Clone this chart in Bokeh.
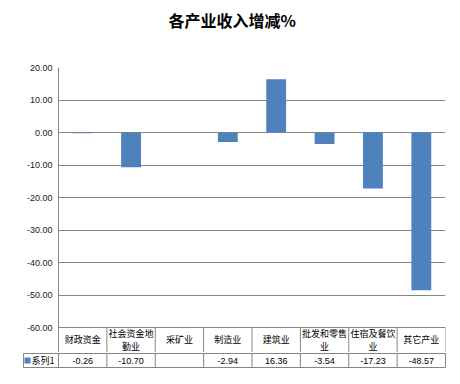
from bokeh.plotting import figure
from bokeh.models import Range1d, FixedTicker, NumeralTickFormatter, ColumnDataSource, Title
from bokeh.layouts import column
from bokeh.core.properties import value
from bokeh.embed import file_html
from bokeh.resources import INLINE

chart_title = "各产业收入增减%"
categories = ["财政资金", "社会资金地\n勤业", "采矿业", "制造业", "建筑业",
              "批发和零售\n业", "住宿及餐饮\n业", "其它产业"]
values = [-0.26, -10.70, None, -2.94, 16.36, -3.54, -17.23, -48.57]
series_name = "系列1"
y_ticks = [-60, -50, -40, -30, -20, -10, 0, 10, 20]

BAR = "#4F81BD"
GRID = "#868686"
CJK = "Noto Sans CJK SC"
NUM = "Liberation Sans"

n = len(categories)
centers = [i + 0.5 for i in range(n)]
vals = [float("nan") if v is None else v for v in values]
val_txt = ["" if v is None else f"{v:.2f}" for v in values]

ypx = 3.25                      # pixels per y unit
ymin = min(y_ticks)
ymax = max(y_ticks)
head_h = 26 / ypx               # header row height (data units)

W = 452
# ---------- chart + header row ----------
p = figure(width=W, height=352,
           min_border_left=58, min_border_right=7, min_border_top=67, min_border_bottom=0,
           x_range=Range1d(0, n), y_range=Range1d(ymin - 25 / ypx, ymax),
           output_backend="svg", toolbar_location=None, title=chart_title,
           frame_align=False)
p.title.align = "left"
p.title.offset = 110
p.title.vertical_align = "bottom"
p.title.standoff = 0
p.title.text_font = CJK
p.title.text_font_size = "16px"
p.title.text_font_style = "bold"
p.title.text_color = "#000000"
# empty spacer between the title and the plotting area
p.add_layout(Title(text=" ", text_font_size="1px", standoff=33), "above")
p.outline_line_color = None
p.xaxis.visible = False
p.xgrid.visible = False
p.yaxis.ticker = FixedTicker(ticks=y_ticks)
p.yaxis.formatter = NumeralTickFormatter(format="0.00")
p.yaxis.major_tick_out = 0
p.yaxis.major_tick_in = 0
p.yaxis.minor_tick_out = 0
p.yaxis.minor_tick_in = 0
p.yaxis.axis_line_color = GRID
p.yaxis.major_label_text_font = NUM
p.yaxis.major_label_text_font_size = "9px"
p.yaxis.major_label_text_color = "#1a1a1a"
p.yaxis.major_label_standoff = 6
p.ygrid.ticker = FixedTicker(ticks=y_ticks)
p.ygrid.grid_line_color = GRID
p.ygrid.grid_line_width = 1

src = ColumnDataSource(dict(x=centers, top=vals))
p.vbar(x="x", top="top", bottom=0, width=0.41, source=src, color=BAR, line_color=None)

xs = list(range(n + 1))
p.segment(x0=xs, y0=[ymin] * (n + 1), x1=xs, y1=[ymin - 30 / ypx] * (n + 1),
          line_color=GRID, line_width=1)
p.text(x=centers, y=[ymin - (head_h / 2) + 1 / ypx] * n, text=categories, text_align="center",
       text_baseline="middle", text_font=value(CJK), text_font_size="9px",
       text_color="#000000", text_line_height=1.0)

# ---------- value row with series key ----------
xpx = 387 / n
t = figure(width=W, height=24,
           min_border_left=22, min_border_right=6, min_border_top=0, min_border_bottom=8,
           x_range=Range1d(-36 / xpx, n + 1 / xpx), y_range=Range1d(-1, 15),
           output_backend="svg", toolbar_location=None, frame_align=False)
t.axis.visible = False
t.grid.visible = False
t.outline_line_color = None

key_left = -35 / xpx
t.segment(x0=[key_left, key_left], y0=[0, 14], x1=[n, n], y1=[0, 14],
          line_color=GRID, line_width=1)
t.segment(x0=xs + [key_left], y0=[0] * (n + 2), x1=xs + [key_left], y1=[14] * (n + 2),
          line_color=GRID, line_width=1)
t.text(x=centers, y=[7] * n, text=val_txt, text_align="center", text_baseline="middle",
       text_font=value(NUM), text_font_size="9px", text_color="#000000")
t.scatter(x=[-31 / xpx], y=[7], marker="square", size=6, color=BAR, line_color=None)
t.text(x=[-27 / xpx], y=[7], text=[series_name], text_align="left", text_baseline="middle",
       text_font=value(CJK), text_font_size="9px", text_color="#000000")

layout = column(p, t, spacing=0)
open("out.html", "w").write(file_html(layout, INLINE))
